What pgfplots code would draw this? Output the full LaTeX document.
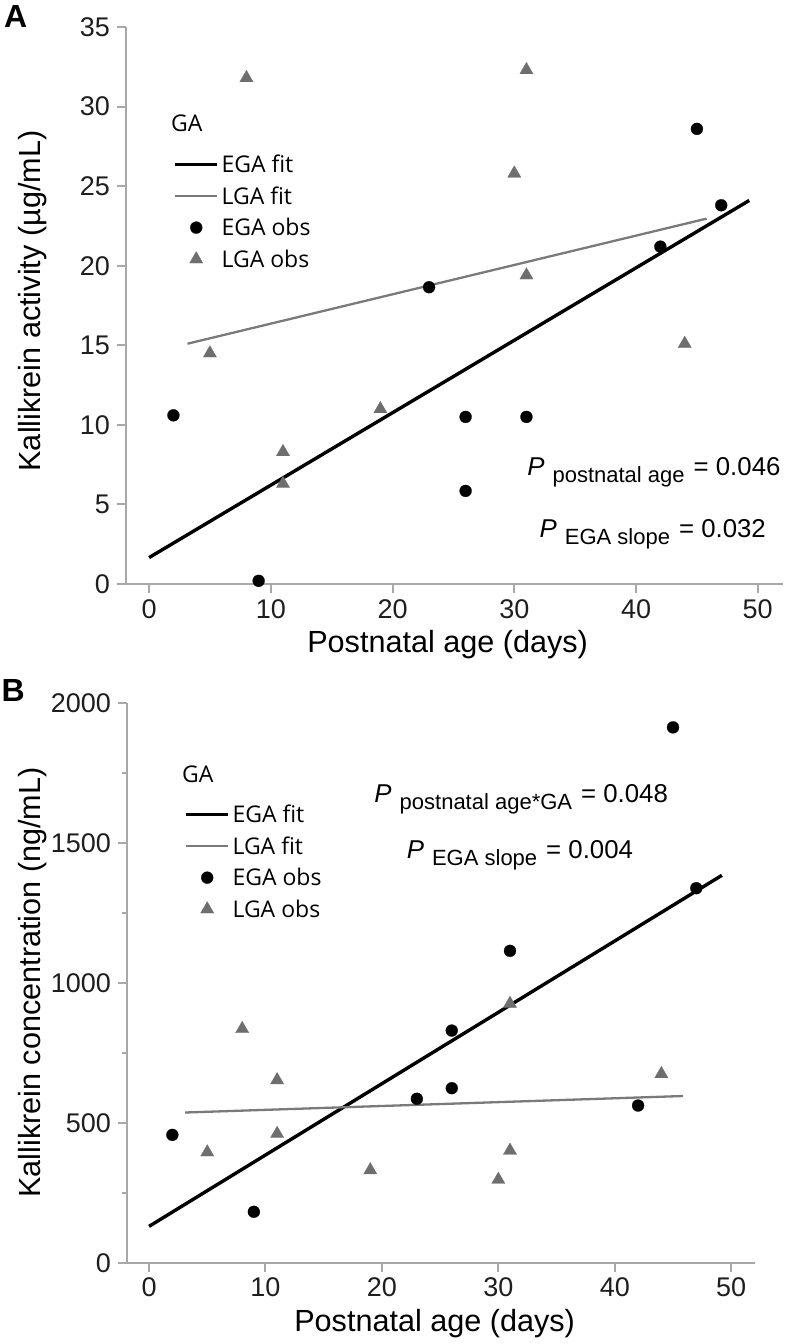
\documentclass[border=0pt]{standalone}
\usepackage{pgfplots}
\pgfplotsset{compat=1.18}
\usepackage{fontspec}
\setmainfont{Liberation Sans}
\newfontfamily\legfont{Open Sans}
\definecolor{axgray}{HTML}{A8A8A8}
\definecolor{tickcol}{HTML}{1E1E1E}
\definecolor{lgamark}{HTML}{6E6E6E}
\definecolor{lgaline}{HTML}{7A7A7A}
\newcommand\ticksize{\fontsize{13.5}{15}\selectfont}
\newcommand\labsize{\fontsize{15.3}{18}\selectfont}
\newcommand\legsize{\legfont\fontsize{11.5}{13}\selectfont}
\newcommand\pmain{\fontsize{12.9}{15}\selectfont}
\newcommand\psub[1]{\raisebox{-3.4pt}{\fontsize{11}{13}\selectfont #1}}
\newcommand\ptext[2]{\pmain\textit{P}\hspace{4pt}\psub{#1}\hspace{4.5pt}= #2}

\pgfplotstableread{
x y
2 10.6
9 0.2
23 18.65
26 10.5
26 5.85
31 10.5
42 21.2
45 28.6
47 23.8
}\AEGA
\pgfplotstableread{
x y
5 14.5
8 31.8
11 8.3
11 6.3
19 11.0
30 25.8
31 32.3
31 19.4
44 15.1
}\ALGA
\pgfplotstableread{
x y
2 457
9 182
23 586
26 624
26 830
31 1115
42 562
45 1914
47 1339
}\BEGA
\pgfplotstableread{
x y
5 395
8 836
11 653
11 461
19 331
30 297
31 926
31 401
44 675
}\BLGA

\pgfplotsset{
  myax/.style={
    scale only axis,
    axis x line*=bottom, axis y line*=left,
    x axis line style={-}, y axis line style={-},
    axis line style={draw=axgray, line width=1pt},
    tick align=outside,
    major tick length=4.5pt,
    minor tick length=2.5pt,
    every tick/.style={draw=axgray, line width=1pt},
    xmin=-1.92, xmax=52.05,
    xtick={0,10,...,50},
    tick label style={font=\ticksize, text=tickcol},
    /pgf/number format/assume math mode=true,
    /pgf/number format/1000 sep={},
    xticklabel style={inner sep=3.0pt},
    yticklabel style={inner sep=3.2pt},
    label style={font=\labsize},
    xlabel={Postnatal age (days)},
    xlabel style={at={(axis description cs:0.49,-0.108)}, anchor=center},
    legend cell align=left,
    legend style={draw=none, fill=none, inner sep=0pt, outer sep=0pt,
      row sep=7.6pt, column sep=1.2pt, font=\legsize,
      nodes={anchor=west, inner sep=0pt, text height=8.2pt, text depth=0pt}},
    legend image code/.code={\draw[mark repeat=2,mark phase=2,##1] plot coordinates {(0pt,0pt)(10.6pt,0pt)(21.2pt,0pt)};},
    egafit/.style={black, line width=1.7pt, no marks},
    lgafit/.style={lgaline, line width=1.15pt, no marks},
    egaobs/.style={only marks, mark=*, mark size=3pt, mark options={fill=black, draw=black, line width=0.1pt}},
    lgaobs/.style={only marks, mark=triangle*, mark size=3.85pt, mark options={fill=lgamark, draw=lgamark, line width=0.1pt}},
  }
}

\begin{document}
\begin{tikzpicture}
\useasboundingbox (0,0) rectangle (394.5pt,-672pt);
\node[anchor=base west, font=\bfseries\fontsize{16}{18}\selectfont, inner sep=0pt] at (1.8pt,-13.5pt) {A};
\node[anchor=base west, font=\bfseries\fontsize{16}{18}\selectfont, inner sep=0pt] at (0.6pt,-350.9pt) {B};

\begin{axis}[myax, at={(62.85pt,-292pt)}, anchor=south west,
  width=328.5pt, height=278.5pt,
  ymin=0, ymax=35, ytick={0,5,...,35},
  ylabel={Kallikrein activity (µg/mL)},
  ylabel style={at={(axis description cs:-0.141,0.508)}, anchor=center},
  legend style={at={(rel axis cs:0.0725,0.768)}, anchor=north west}]
\addplot[egafit] coordinates {(0,1.66) (49.3,24.1)};
\addlegendentry{EGA fit}
\addplot[lgafit] coordinates {(3.16,15.1) (45.8,22.96)};
\addlegendentry{LGA fit}
\addplot[egaobs] table[x=x,y=y] {\AEGA};
\addlegendentry{EGA obs}
\addplot[lgaobs] table[x=x,y=y] {\ALGA};
\addlegendentry{LGA obs}
\node[anchor=base west, font=\legsize, inner sep=0pt] at (rel axis cs:0.0685,0.8126) {GA};
\node[anchor=base east, inner sep=0pt] at (axis cs:51.9,6.81) {\ptext{postnatal age}{0.046}};
\node[anchor=base east, inner sep=0pt] at (axis cs:50.7,2.93) {\ptext{EGA slope}{0.032}};
\end{axis}

\begin{axis}[myax, at={(63.35pt,-631.35pt)}, anchor=south west,
  width=314.2pt, height=279.7pt,
  ymin=0, ymax=2000, ytick={0,500,...,2000}, minor ytick={250,750,1250,1750},
  ylabel={Kallikrein concentration (ng/mL)},
  ylabel style={at={(axis description cs:-0.149,0.501)}, anchor=center},
  legend style={at={(rel axis cs:0.0917,0.816)}, anchor=north west}]
\addplot[egafit] coordinates {(0,130) (49.2,1385)};
\addlegendentry{EGA fit}
\addplot[lgafit] coordinates {(3.1,537) (45.86,596)};
\addlegendentry{LGA fit}
\addplot[egaobs] table[x=x,y=y] {\BEGA};
\addlegendentry{EGA obs}
\addplot[lgaobs] table[x=x,y=y] {\BLGA};
\addlegendentry{LGA obs}
\node[anchor=base west, font=\legsize, inner sep=0pt] at (rel axis cs:0.0875,0.858) {GA};
\node[anchor=base east, inner sep=0pt] at (axis cs:44.6,1646) {\ptext{postnatal age*GA}{0.048}};
\node[anchor=base east, inner sep=0pt] at (axis cs:41.6,1446) {\ptext{EGA slope}{0.004}};
\end{axis}
\end{tikzpicture}
\end{document}
